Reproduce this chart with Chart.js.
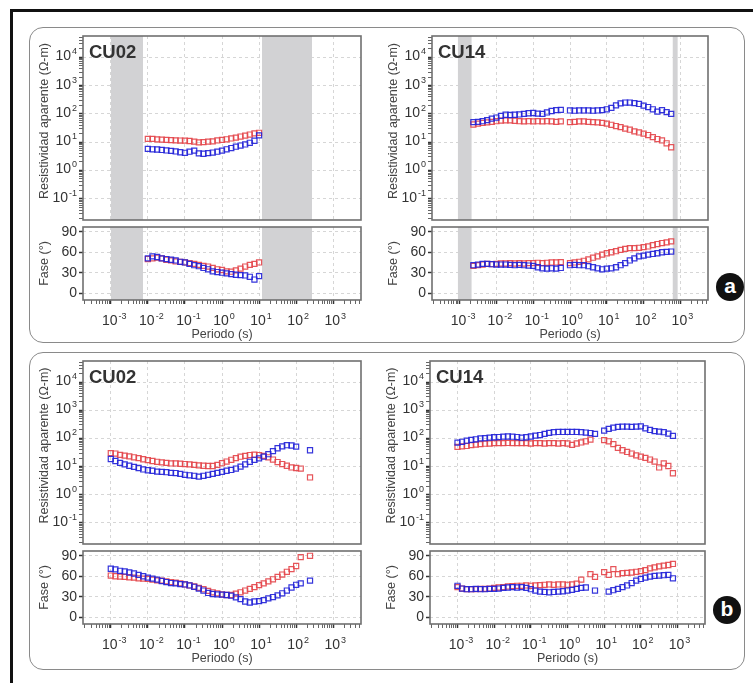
<!DOCTYPE html>
<html>
<head>
<meta charset="utf-8">
<script src="https://cdn.jsdelivr.net/npm/chart.js@4.4.1/dist/chart.umd.min.js"></script>
<style>
body{margin:0;background:#fff;width:753px;height:683px;overflow:hidden;position:relative;font-family:"Liberation Sans",Arial,sans-serif}
.frame{position:absolute;left:10px;top:9px;width:800px;height:720px;border:3px solid #111}
.panel{position:absolute;left:29px;width:716px;box-sizing:border-box;border:1.5px solid #8a8a8a;border-radius:14px}
.badge{position:absolute;width:28px;height:28px;border-radius:50%;background:#111;color:#fff;font:bold 21px "Liberation Sans",Arial,sans-serif;text-align:center;line-height:26px}
canvas{position:absolute}
</style>
</head>
<body>
<div class="frame"></div>
<div class="panel" style="top:27px;height:316px"></div>
<div class="panel" style="top:352px;height:318px"></div>
<div class="badge" style="left:716px;top:273px">a</div>
<div class="badge" style="left:713px;top:596px">b</div>
<script>
// ---- data ----
const rhoTickExps = [-1, 0, 1, 2, 3, 4];
const periodTickExps = [-3, -2, -1, 0, 1, 2, 3];
const phaseTicks = [0, 30, 60, 90];
const rhoTitle = 'Resistividad aparente (Ω-m)';
const phiTitle = 'Fase (°)';
const periodTitle = 'Periodo (s)';

// panel a, CU02
const periodsA_CU02 = [0.01,0.0133,0.0178,0.0237,0.0316,0.0422,0.0562,0.075,0.1,0.133,0.178,0.237,0.316,0.422,0.562,0.75,1,1.33,1.78,2.37,3.16,4.22,5.62,7.5,10];
const rhoXY_A_CU02 = [13,13,12.5,12.3,12,11.8,11.6,11.4,11.3,11,10.4,9.8,10,10.4,10.7,11.5,12,12.6,13.5,14.5,15.8,17,18.6,20.4,21.4];
const rhoYX_A_CU02 = [5.8,5.6,5.5,5.3,5.1,4.9,4.7,4.4,4.2,4.6,5.0,4.0,3.9,4.1,4.3,4.6,5.0,5.6,6.2,6.9,7.6,8.3,9.5,11.2,17.4];
const phiXY_A_CU02 = [50,51,52,51,49,48,46.5,46,45,44,43,41.5,40,39,37,35,34,32,31.5,33.5,36,39,41.5,43,45];
const phiYX_A_CU02 = [51,54,53,51,50,49,48,46,45,43,41,39.5,37,35,32,31,30,29,28,27,26.5,26,24,20,25];
const bandsA_CU02 = [[0.001, 0.0074], [12, 270]];

// panel a, CU14
const periodsA_CU14 = [0.00237,0.00316,0.00422,0.00562,0.0075,
  0.01,0.0133,0.0178,0.0237,0.0316,0.0422,0.0562,0.075,
  0.1,0.133,0.178,0.237,0.316,0.422,0.562,0.75,
  1,1.33,1.78,2.37,3.16,4.22,5.62,7.5,
  10,13.3,17.8,23.7,31.6,42.2,56.2,75,
  100,133,178,237,316,422,562];
const rhoXY_A_CU14 = [42,45,48,50,52, 55,58,59,59,57,55,54,55, 54,55,54,55,54,52,54,null, 51,52,54,54,52,51,50,48, 45,41,37,34,30,27.5,24,22, 20,17.8,15,12.9,11.5,9.1,6.6];
const rhoYX_A_CU14 = [51,52,55,60,68, 74,85,93,91,93,95,100,105, 107,102,100,112,126,135,138,null, 132,129,132,132,132,129,132,135, 145,162,200,234,251,251,240,224, 195,174,145,120,135,115,100];
const phiXY_A_CU14 = [40,41,42,43,42.5, 43,43.5,43.5,44,43.5,44,43.5,44, 44,44.5,44,44.5,45,45,45.5,null, 44,45,46,47.5,49.5,52,54,56.5, 58.5,60,61.5,63.5,65,66,66,66.5, 67.5,68.5,70.5,72,73.5,74.5,76];
const phiYX_A_CU14 = [41,42,43,43,42.5, 42,42,42,41.5,41,41.5,41,40.5, 40,38,36.5,36,36.5,36,37,null, 41,41.5,41,41,39.5,38,36.5,35, 36,36.5,38,41,44,48,51,54, 55,56.5,57.5,58.5,60,60.5,61];
const bandsA_CU14 = [[0.00089, 0.00214], [610, 850]];

// panel b, CU02
const periodsB_CU02 = [0.001,0.00133,0.00178,0.00237,0.00316,0.00422,0.00562,0.0075,
  0.01,0.0133,0.0178,0.0237,0.0316,0.0422,0.0562,0.075,
  0.1,0.133,0.178,0.237,0.316,0.422,0.562,0.75,
  1,1.33,1.78,2.37,3.16,4.22,5.62,7.5,
  10,13.3,17.8,23.7,31.6,42.2,56.2,75,
  100,133,178,237];
const rhoXY_B_CU02 = [30,29,26,24.5,23,21.4,20,18.2, 17,15.8,14.8,14.1,13.5,12.9,12.9,12.6, 12.3,12,11.5,11,10.7,10.5,10.5,11.5, 13.2,15.1,17.4,20,22.4,24,25.7,26.3, 25.7,24,21.4,17.8,14.5,12.3,10.7,9.3, 8.9,8.5,null,4.1];
const rhoYX_B_CU02 = [18.6,15.8,13.5,12,10.7,9.8,8.9,7.9, 7.4,7.1,6.6,6.5,6.3,6,5.9,5.5, 5.1,4.9,4.7,4.4,4.7,5.1,5.5,6, 6.5,7.1,7.6,8.5,10,12,14.8,17.4, 19.5,22.4,27.5,35.5,44.7,52,57.5,56, 51,null,null,38];
const phiXY_B_CU02 = [61,60,59.5,59,58.5,58,57,56.5, 56,55,54,53.5,52.5,51.5,50.5,49.5, 48,46.5,45,43,41,38.5,36.5,35, 33.5,32.5,32.5,34.5,36.5,39,41.5,44, 47,49.5,52.5,55.5,59,62.5,66.5,70.5, 75,88,null,90];
const phiYX_B_CU02 = [71,70,68,67,65.5,64,62,60, 58,56.5,55,53,51.5,50,49.5,48.5, 48,46.5,44.5,42,39,35.5,34,33.5, 33,32.5,31.5,29,26.5,23,21.5,23, 23.5,25,27.5,29.5,32,35,39,43.5, 47.5,49.5,null,53.5];

// panel b, CU14
const periodsB_CU14 = [0.001,0.00133,0.00178,0.00237,0.00316,0.00422,0.00562,0.0075,
  0.01,0.0133,0.0178,0.0237,0.0316,0.0422,0.0562,0.075,
  0.1,0.133,0.178,0.237,0.316,0.422,0.562,0.75,
  1,1.33,1.78,2.37,3.16,4.22,5.62,7.5,
  10,13.3,17.8,23.7,31.6,42.2,56.2,75,
  100,133,178,237,316,422,562,750];
const rhoXY_B_CU14 = [50,52,54,58,60,63,65,66, 68,68,68,69,68,68,68,68, 66,68,68,66,68,68,66,68, 66,59,66,72,79,91,null,null, 87,79,63,46,38,33,29,25, 22.4,20.4,17.8,15.1,9.3,13,10.5,5.8];
const rhoYX_B_CU14 = [71,76,83,89,93,100,102,107, 110,112,115,117,115,112,107,110, 117,126,132,145,158,166,170,170, 170,170,170,166,162,155,145,null, 190,219,240,257,263,263,257,263, 269,229,200,182,174,166,148,123];
const phiXY_B_CU14 = [44,42,41,41,41,41.5,41.5,42, 43,43.5,44,45,45.5,46,46,46.5, 46,46.5,47,47.5,48,47.5,48,48, 47.5,48,49,55,null,63,59,null, 66,62,70.5,63,64.5,65,65.5,66.5, 67.5,69,71.5,73,74.5,75.5,76.5,78];
const phiYX_B_CU14 = [46,42,41,41,41.5,41,41,41.5, 41.5,42,43,43.5,44,43.5,44,43, 41,39,37.5,37,36.5,37,37.5,38, 39,40,41.5,43,43.5,null,39,null, null,37.5,39.5,41.5,44,46.5,50,53.5, 56,58,59.5,60.5,61,61.5,62,57];

// ---- styling / layout ----
const FONT = '"Liberation Sans", Arial, Helvetica, sans-serif';
const RED = 'rgba(228,70,76,0.92)';
const BLUE = 'rgba(36,36,216,0.92)';
const BAND = '#d2d2d4';
const GRID = '#d6d6d6';
const T_MIN = Math.pow(10, -3.75), T_MAX = Math.pow(10, 3.75);
const RHO_MIN = Math.pow(10, -1.75), RHO_MAX = Math.pow(10, 4.75);
const PHI_MIN = -10, PHI_MAX = 97;
const AX_W = 60, PAD_T = 6, PAD_R = 6;

const geom = {
  aL: {x: 83, w: 278, resTop: 36, resH: 184, phTop: 227, phH: 73},
  aR: {x: 432, w: 276, resTop: 36, resH: 184, phTop: 227, phH: 73},
  bL: {x: 83, w: 278, resTop: 361, resH: 183, phTop: 551, phH: 73},
  bR: {x: 430, w: 275, resTop: 361, resH: 183, phTop: 551, phH: 73}
};

function logTicks(min, max) {
  const out = [];
  for (let e = Math.floor(Math.log10(min)); e <= Math.ceil(Math.log10(max)); e++) {
    for (let k = 1; k <= 9; k++) {
      const v = k * Math.pow(10, e);
      if (v >= min && v <= max) out.push({value: v, major: k === 1});
    }
  }
  return out;
}

function pow10(ctx, e, x, yBase, align) {
  const sup = String(e);
  ctx.font = '14px ' + FONT;
  const bw = ctx.measureText('10').width;
  ctx.font = '9px ' + FONT;
  const sw = ctx.measureText(sup).width;
  const x0 = align === 'right' ? x - bw - sw - 1 : x - bw / 2 - 1;
  ctx.textAlign = 'left';
  ctx.textBaseline = 'alphabetic';
  ctx.font = '14px ' + FONT;
  ctx.fillText('10', x0, yBase);
  ctx.font = '9px ' + FONT;
  ctx.fillText(sup, x0 + bw + 1, yBase - 6);
}

function vTitle(ctx, text, x, y) {
  ctx.save();
  ctx.translate(x, y);
  ctx.rotate(-Math.PI / 2);
  ctx.font = '12.5px ' + FONT;
  ctx.fillStyle = '#444';
  ctx.textAlign = 'center';
  ctx.textBaseline = 'middle';
  ctx.fillText(text, 0, 0);
  ctx.restore();
}

const mtDecor = {
  id: 'mtDecor',
  afterDraw(chart, args, o) {
    const {ctx, chartArea: a, scales} = chart;
    ctx.save();
    ctx.strokeStyle = '#707070';
    ctx.lineWidth = 1.6;
    ctx.strokeRect(a.left, a.top, a.right - a.left, a.bottom - a.top);
    ctx.fillStyle = '#333';
    if (o.kind === 'res') {
      rhoTickExps.forEach(e => pow10(ctx, e, a.left - 6, scales.y.getPixelForValue(Math.pow(10, e)) + 3, 'right'));
      ctx.font = 'bold 18.5px ' + FONT;
      ctx.fillStyle = '#333';
      ctx.textAlign = 'left';
      ctx.textBaseline = 'alphabetic';
      ctx.fillText(o.station, a.left + 6, a.top + 22);
      vTitle(ctx, rhoTitle, a.left - 38, (a.top + a.bottom) / 2 - 7);
    } else {
      ctx.font = '14px ' + FONT;
      ctx.textAlign = 'right';
      ctx.textBaseline = 'middle';
      phaseTicks.forEach(v => ctx.fillText(String(v), a.left - 6, scales.y.getPixelForValue(v)));
      periodTickExps.forEach(e => pow10(ctx, e, scales.x.getPixelForValue(Math.pow(10, e)), a.bottom + 25, 'center'));
      vTitle(ctx, phiTitle, a.left - 38, (a.top + a.bottom) / 2);
      ctx.font = '12.5px ' + FONT;
      ctx.fillStyle = '#444';
      ctx.textAlign = 'center';
      ctx.textBaseline = 'middle';
      ctx.fillText(periodTitle, (a.left + a.right) / 2, a.bottom + 35);
    }
    ctx.restore();
  }
};

function points(periods, vals, color, order) {
  const data = [];
  periods.forEach((t, i) => { if (vals[i] != null) data.push({x: t, y: vals[i]}); });
  return {
    data, order,
    pointStyle: 'rect', pointRadius: 3.6, borderWidth: 1.2,
    borderColor: color, backgroundColor: 'rgba(0,0,0,0)'
  };
}

function makeChart(kind, g, station, periods, red, blue, bands) {
  const isRes = kind === 'res';
  const top = isRes ? g.resTop : g.phTop;
  const h = isRes ? g.resH : g.phH;
  const xH = isRes ? 2 : 50;
  const yMin = isRes ? RHO_MIN : PHI_MIN;
  const yMax = isRes ? RHO_MAX : PHI_MAX;

  const cv = document.createElement('canvas');
  cv.width = AX_W + g.w + PAD_R;
  cv.height = PAD_T + h + xH;
  cv.style.left = (g.x - AX_W) + 'px';
  cv.style.top = (top - PAD_T) + 'px';
  document.body.appendChild(cv);

  const datasets = bands.map(b => ({
    type: 'line',
    data: [{x: b[0], y: yMax}, {x: b[1], y: yMax}],
    fill: 'start', backgroundColor: BAND,
    borderColor: 'rgba(0,0,0,0)', borderWidth: 0, pointRadius: 0, order: 5
  }));
  datasets.push(points(periods, red, RED, 2));
  datasets.push(points(periods, blue, BLUE, 1));

  const gridOpts = tl => ({
    color: c => (c.tick && c.tick.major) ? GRID : 'rgba(0,0,0,0)',
    lineWidth: 1,
    drawTicks: tl > 0,
    tickLength: tl,
    tickColor: c => (c.tick && c.tick.major) ? '#333' : '#666',
    tickWidth: c => (c.tick && c.tick.major) ? 1.5 : 1,
    tickBorderDash: []
  });

  new Chart(cv, {
    type: 'scatter',
    data: {datasets},
    options: {
      responsive: false,
      animation: false,
      events: [],
      layout: {padding: {left: 0, top: PAD_T, right: PAD_R, bottom: 0}, autoPadding: false},
      plugins: {
        legend: {display: false},
        tooltip: {enabled: false},
        mtDecor: {kind, station}
      },
      scales: {
        x: {
          type: 'logarithmic', position: 'bottom', min: T_MIN, max: T_MAX,
          afterBuildTicks: s => { s.ticks = logTicks(T_MIN, T_MAX); },
          afterFit: s => { s.height = xH; s.paddingLeft = 0; s.paddingRight = 0; s.paddingTop = 0; s.paddingBottom = 0; },
          ticks: {display: false},
          border: {display: false, dash: [3, 3]},
          grid: gridOpts(isRes ? 0 : 4)
        },
        y: {
          type: isRes ? 'logarithmic' : 'linear', position: 'left', min: yMin, max: yMax,
          afterBuildTicks: s => {
            s.ticks = isRes ? logTicks(RHO_MIN, RHO_MAX) : phaseTicks.map(v => ({value: v, major: true}));
          },
          afterFit: s => { s.width = AX_W; s.paddingLeft = 0; s.paddingRight = 0; s.paddingTop = 0; s.paddingBottom = 0; },
          ticks: {display: false},
          border: {display: false, dash: [3, 3]},
          grid: gridOpts(4)
        }
      }
    },
    plugins: [mtDecor]
  });
}

makeChart('res', geom.aL, 'CU02', periodsA_CU02, rhoXY_A_CU02, rhoYX_A_CU02, bandsA_CU02);
makeChart('phase', geom.aL, 'CU02', periodsA_CU02, phiXY_A_CU02, phiYX_A_CU02, bandsA_CU02);
makeChart('res', geom.aR, 'CU14', periodsA_CU14, rhoXY_A_CU14, rhoYX_A_CU14, bandsA_CU14);
makeChart('phase', geom.aR, 'CU14', periodsA_CU14, phiXY_A_CU14, phiYX_A_CU14, bandsA_CU14);
makeChart('res', geom.bL, 'CU02', periodsB_CU02, rhoXY_B_CU02, rhoYX_B_CU02, []);
makeChart('phase', geom.bL, 'CU02', periodsB_CU02, phiXY_B_CU02, phiYX_B_CU02, []);
makeChart('res', geom.bR, 'CU14', periodsB_CU14, rhoXY_B_CU14, rhoYX_B_CU14, []);
makeChart('phase', geom.bR, 'CU14', periodsB_CU14, phiXY_B_CU14, phiYX_B_CU14, []);
</script>
</body>
</html>
